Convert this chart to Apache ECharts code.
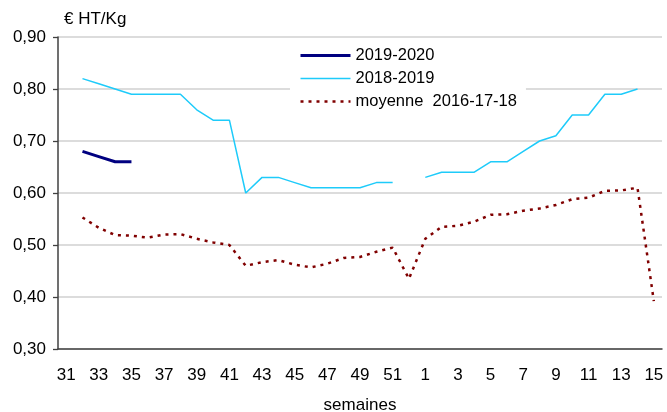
<!DOCTYPE html>
<html>
<head>
<meta charset="utf-8">
<script src="https://cdn.jsdelivr.net/npm/echarts@6/dist/echarts.min.js"></script>
<style>
html,body{margin:0;padding:0;background:#fff;}
#chart{width:667px;height:412px;}
</style>
</head>
<body>
<div id="chart"></div>
<script>
var weeks = ['31','32','33','34','35','36','37','38','39','40','41','42','43','44','45','46','47','48','49','50','51','52',
             '1','2','3','4','5','6','7','8','9','10','11','12','13','14','15'];
var yTicks = [0.30, 0.40, 0.50, 0.60, 0.70, 0.80, 0.90];
var s2019_2020 = [null, 0.68, 0.67, 0.66, 0.66, null, null, null, null, null, null, null, null, null, null, null, null, null, null, null, null, null,
                  null, null, null, null, null, null, null, null, null, null, null, null, null, null, null];
var s2018_2019 = [null, 0.82, 0.81, 0.80, 0.79, 0.79, 0.79, 0.79, 0.76, 0.74, 0.74, 0.60, 0.63, 0.63, 0.62, 0.61, 0.61, 0.61, 0.61, 0.62, 0.62, null,
                  0.63, 0.64, 0.64, 0.64, 0.66, 0.66, 0.68, 0.70, 0.71, 0.75, 0.75, 0.79, 0.79, 0.80, null];
var moyenne = [null, 0.553, 0.533, 0.519, 0.518, 0.514, 0.520, 0.521, 0.512, 0.505, 0.500, 0.460, 0.467, 0.471, 0.462, 0.457, 0.464, 0.475, 0.477, 0.487, 0.495, 0.435,
               0.512, 0.535, 0.537, 0.545, 0.558, 0.559, 0.566, 0.570, 0.577, 0.588, 0.591, 0.604, 0.605, 0.610, 0.392];
var seriesNames = ['2019-2020', '2018-2019', 'moyenne  2016-17-18'];

var font = 'Arial, "Liberation Sans", sans-serif';
var chart = echarts.init(document.getElementById('chart'), null, {renderer: 'canvas'});
chart.setOption({
  animation: false,
  backgroundColor: '#fff',
  title: {
    text: '€ HT/Kg', left: 59, top: 6,
    textStyle: {fontFamily: font, fontSize: 17, fontWeight: 'normal', color: '#000'}
  },
  legend: {
    orient: 'vertical', left: 290, top: 44,
    padding: [3, 9, 3, 9],
    backgroundColor: '#fff',
    itemWidth: 50, itemHeight: 14, itemGap: 6,
    textStyle: {fontFamily: font, fontSize: 16.5, color: '#000'},
    itemStyle: {opacity: 0},
    data: [
      {name: seriesNames[0], lineStyle: {width: 3}},
      {name: seriesNames[1], lineStyle: {width: 1.5}},
      {name: seriesNames[2], lineStyle: {width: 2.5}}
    ]
  },
  grid: {left: 58, right: 5, top: 37, bottom: 63, containLabel: false, outerBoundsMode: 'none'},
  xAxis: {
    type: 'category', data: weeks, boundaryGap: true,
    name: 'semaines', nameLocation: 'middle', nameGap: 48,
    nameTextStyle: {fontFamily: font, fontSize: 17, color: '#000'},
    axisLine: {lineStyle: {color: '#404040', width: 1.5}},
    axisTick: {interval: 0, length: 5, lineStyle: {color: '#404040', width: 1.3}},
    axisLabel: {interval: 1, margin: 18, fontFamily: font, fontSize: 17, color: '#000'},
    splitLine: {show: false}
  },
  yAxis: {
    type: 'value', min: 0.3, max: 0.9, interval: 0.1,
    axisLine: {show: true, lineStyle: {color: '#404040', width: 1.5}},
    axisTick: {show: true, length: 5, lineStyle: {color: '#404040', width: 1.3}},
    axisLabel: {margin: 12, fontFamily: font, fontSize: 17, color: '#000',
      formatter: function (v) { return v.toFixed(2).replace('.', ','); }},
    splitLine: {lineStyle: {color: '#d0d0d0', width: 1.5}}
  },
  series: [
    {name: seriesNames[0], type: 'line', data: s2019_2020, symbol: 'none', connectNulls: false,
     lineStyle: {color: '#000080', width: 3}, itemStyle: {color: '#000080'}, z: 4},
    {name: seriesNames[1], type: 'line', data: s2018_2019, symbol: 'none', connectNulls: false,
     lineStyle: {color: '#1ECBFA', width: 1.5}, itemStyle: {color: '#1ECBFA'}, z: 3},
    {name: seriesNames[2], type: 'line', data: moyenne, symbol: 'none', connectNulls: false,
     lineStyle: {color: '#800000', width: 2.5, type: [3, 5]}, itemStyle: {color: '#800000'}, z: 2}
  ]
});
</script>
</body>
</html>
